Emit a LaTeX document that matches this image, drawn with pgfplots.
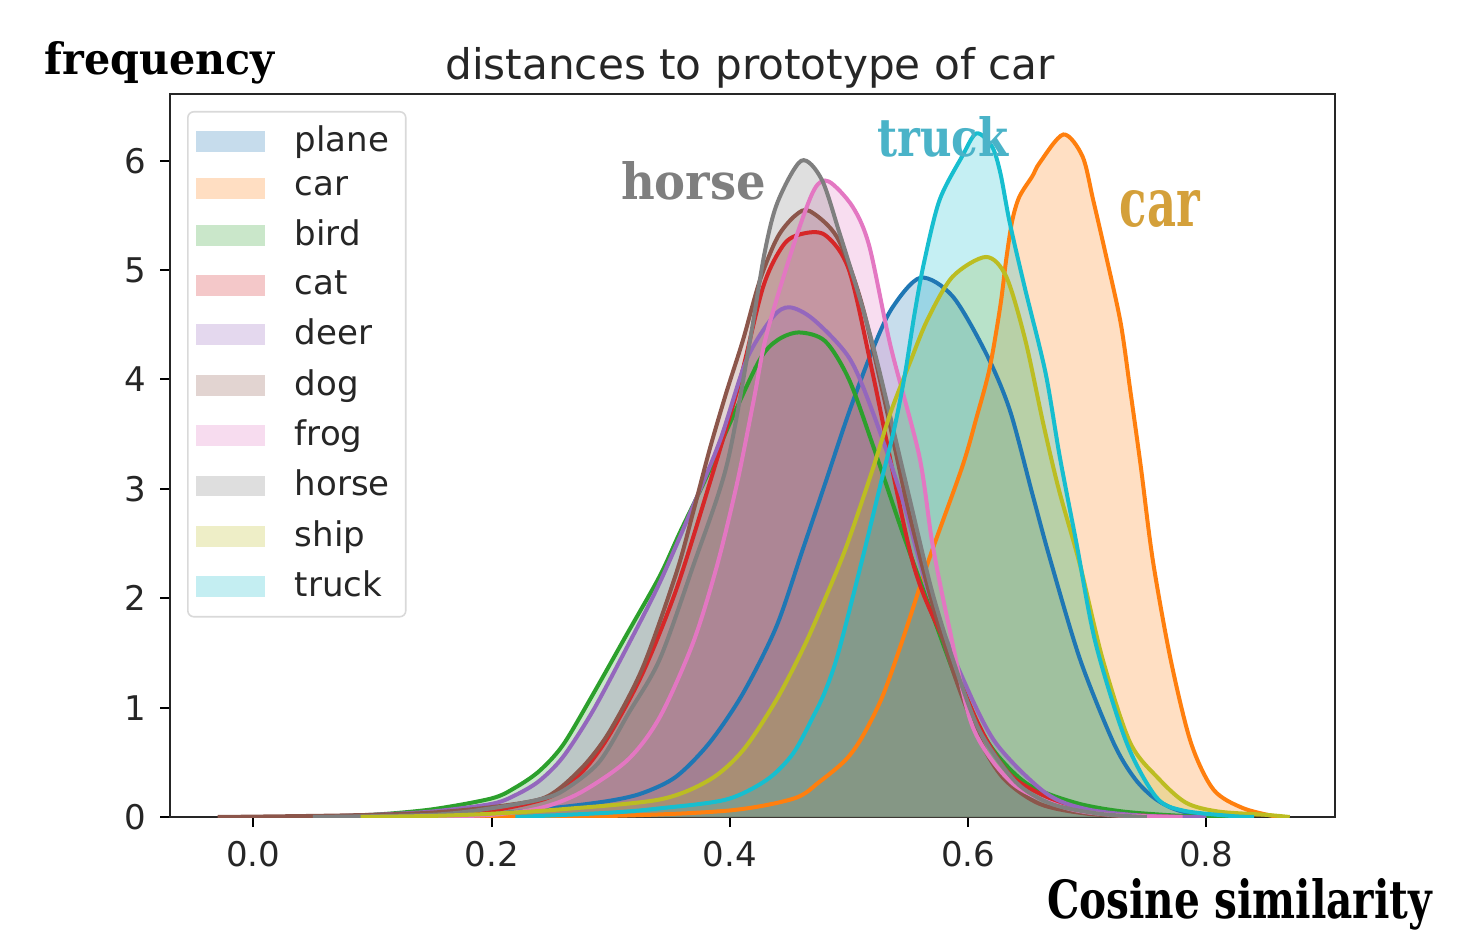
\documentclass[border=0pt]{standalone}
\usepackage{fontspec}
\setmainfont{DejaVu Sans}
\newfontfamily\slab{DejaVu Serif}
\usepackage{graphicx}
\usepackage{pgfplots}
\usepackage{pgfplotstable}
\pgfplotsset{compat=1.18}

\definecolor{cplane}{HTML}{1F77B4}
\definecolor{ccar}{HTML}{FF7F0E}
\definecolor{cbird}{HTML}{2CA02C}
\definecolor{ccat}{HTML}{D62728}
\definecolor{cdeer}{HTML}{9467BD}
\definecolor{cdog}{HTML}{8C564B}
\definecolor{cfrog}{HTML}{E377C2}
\definecolor{chorse}{HTML}{7F7F7F}
\definecolor{cship}{HTML}{BCBD22}
\definecolor{ctruck}{HTML}{17BECF}
\definecolor{ltruck}{HTML}{4AB3C8}
\definecolor{lcar}{HTML}{D4A03A}

\pgfplotstableread{
x y
0.10 0.0
0.20 0.03
0.258 0.09
0.30 0.15
0.327 0.22
0.355 0.37
0.383 0.68
0.411 1.13
0.439 1.74
0.461 2.44
0.48 3.05
0.50 3.70
0.519 4.25
0.536 4.65
0.56 4.93
0.587 4.76
0.615 4.24
0.635 3.72
0.654 2.95
0.669 2.35
0.694 1.44
0.722 0.68
0.74 0.35
0.758 0.16
0.78 0.05
0.82 0.0
}\tplane

\pgfplotstableread{
x y
0.15 0.0
0.30 0.01
0.40 0.06
0.454 0.17
0.475 0.32
0.497 0.52
0.511 0.73
0.528 1.10
0.545 1.62
0.567 2.35
0.595 3.20
0.607 3.65
0.618 4.10
0.627 4.67
0.632 5.10
0.637 5.45
0.643 5.67
0.654 5.86
0.66 5.98
0.68 6.24
0.696 6.04
0.705 5.64
0.716 5.12
0.728 4.52
0.736 3.91
0.745 3.20
0.755 2.35
0.77 1.44
0.787 0.68
0.806 0.25
0.831 0.08
0.86 0.0
}\tcar

\pgfplotstableread{
x y
0.05 0.0
0.10 0.02
0.15 0.07
0.20 0.17
0.22 0.27
0.24 0.42
0.26 0.66
0.285 1.12
0.314 1.68
0.341 2.20
0.358 2.60
0.38 3.10
0.40 3.60
0.425 4.18
0.44 4.36
0.458 4.43
0.48 4.35
0.50 4.00
0.52 3.40
0.545 2.60
0.57 1.85
0.595 1.13
0.62 0.63
0.65 0.30
0.69 0.13
0.73 0.05
0.78 0.01
0.82 0.0
}\tbird

\pgfplotstableread{
x y
0.05 0.0
0.10 0.01
0.15 0.02
0.20 0.06
0.24 0.15
0.258 0.24
0.28 0.46
0.30 0.77
0.327 1.32
0.355 2.08
0.383 3.05
0.408 3.97
0.428 4.85
0.445 5.23
0.46 5.33
0.48 5.32
0.50 5.00
0.52 4.05
0.553 2.35
0.58 1.60
0.61 0.82
0.637 0.37
0.68 0.12
0.72 0.03
0.78 0.0
}\tcat

\pgfplotstableread{
x y
0.05 0.0
0.10 0.02
0.15 0.05
0.20 0.12
0.22 0.20
0.24 0.33
0.26 0.55
0.285 0.97
0.314 1.56
0.341 2.14
0.369 2.84
0.392 3.45
0.414 4.18
0.436 4.57
0.45 4.66
0.47 4.55
0.50 4.20
0.52 3.70
0.545 2.90
0.567 2.05
0.595 1.28
0.623 0.68
0.665 0.22
0.70 0.07
0.75 0.01
0.80 0.0
}\tdeer

\pgfplotstableread{
x y
-0.03 0.0
0.05 0.01
0.10 0.02
0.15 0.04
0.20 0.09
0.24 0.16
0.258 0.27
0.28 0.50
0.30 0.80
0.327 1.37
0.355 2.23
0.369 2.78
0.383 3.36
0.397 3.88
0.411 4.36
0.425 4.90
0.44 5.30
0.455 5.50
0.467 5.54
0.49 5.30
0.51 4.72
0.53 3.80
0.55 2.80
0.57 1.95
0.59 1.25
0.61 0.70
0.63 0.35
0.66 0.12
0.70 0.03
0.75 0.0
}\tdog

\pgfplotstableread{
x y
0.15 0.0
0.20 0.02
0.24 0.08
0.274 0.22
0.314 0.52
0.341 0.91
0.369 1.59
0.389 2.29
0.406 3.05
0.42 3.81
0.431 4.42
0.455 5.28
0.471 5.74
0.483 5.81
0.503 5.58
0.517 5.22
0.535 4.30
0.559 3.30
0.57 2.50
0.584 1.74
0.604 0.82
0.637 0.31
0.68 0.09
0.72 0.02
0.78 0.0
}\tfrog

\pgfplotstableread{
x y
0.05 0.0
0.15 0.02
0.20 0.08
0.24 0.16
0.26 0.24
0.29 0.50
0.315 0.95
0.341 1.44
0.369 2.29
0.397 3.20
0.416 4.30
0.429 5.15
0.44 5.62
0.46 6.00
0.477 5.83
0.492 5.34
0.511 4.67
0.525 4.10
0.55 2.95
0.57 2.05
0.59 1.35
0.61 0.78
0.64 0.32
0.67 0.12
0.71 0.03
0.75 0.0
}\thorse

\pgfplotstableread{
x y
0.09 0.0
0.15 0.01
0.20 0.03
0.258 0.07
0.341 0.16
0.383 0.34
0.411 0.61
0.439 1.07
0.461 1.53
0.475 1.87
0.497 2.45
0.519 3.15
0.535 3.70
0.551 4.15
0.566 4.55
0.587 4.94
0.615 5.12
0.632 4.94
0.648 4.36
0.663 3.60
0.676 3.00
0.694 2.30
0.713 1.44
0.736 0.68
0.76 0.35
0.783 0.13
0.81 0.05
0.85 0.02
0.87 0.0
}\tship

\pgfplotstableread{
x y
0.22 0.0
0.30 0.04
0.342 0.08
0.397 0.16
0.431 0.34
0.453 0.58
0.47 0.92
0.48 1.15
0.491 1.50
0.511 2.35
0.528 3.11
0.538 3.55
0.547 4.05
0.555 4.60
0.563 5.07
0.576 5.64
0.595 6.04
0.607 6.25
0.62 6.13
0.627 5.89
0.635 5.43
0.648 4.82
0.665 4.06
0.677 3.29
0.691 2.50
0.707 1.59
0.733 0.68
0.758 0.18
0.78 0.06
0.82 0.01
0.84 0.0
}\ttruck

\begin{document}
\begin{tikzpicture}
\path[use as bounding box] (0,0) rectangle (367pt,236pt);
\begin{axis}[
  at={(42.5pt,31.75pt)}, anchor=south west,
  scale only axis, width=291.25pt, height=180.75pt,
  xmin=-0.07, xmax=0.908, ymin=0, ymax=6.61,
  xtick={0,0.2,0.4,0.6,0.8}, ytick={0,1,2,3,4,5,6},
  xticklabel style={/pgf/number format/fixed, /pgf/number format/precision=1, /pgf/number format/fixed zerofill},
  /pgf/number format/assume math mode=true,
  tick label style={font=\fontsize{8.5}{10}\selectfont, text=black!85},
  tick align=outside, tick pos=left, major tick length=2.5pt,
  every tick/.style={black, line width=0.5pt},
  axis line style={black!85, line width=0.6pt},
  legend cell align=left,
  legend style={at={(0.0146,0.9765)}, anchor=north west, draw=black!15, rounded corners=1.5pt, fill=white,
    font=\fontsize{8.5}{10}\selectfont, text=black!85, inner xsep=2pt, inner ysep=1.5pt, row sep=0.65pt,
    /tikz/every odd column/.append style={column sep=5.5pt}},
  legend image code/.code={\fill[#1, draw=none, sharp corners] (0pt,-2.6pt) rectangle (17.25pt,2.6pt);},
  every axis plot/.append style={smooth, tension=0.5},
]
% fills (zorder 1)
\addplot[fill=cplane, fill opacity=0.25, draw=none] table {\tplane} \closedcycle;
\addlegendentry{plane}
\addplot[fill=ccar, fill opacity=0.25, draw=none] table {\tcar} \closedcycle;
\addlegendentry{car}
\addplot[fill=cbird, fill opacity=0.25, draw=none] table {\tbird} \closedcycle;
\addlegendentry{bird}
\addplot[fill=ccat, fill opacity=0.25, draw=none] table {\tcat} \closedcycle;
\addlegendentry{cat}
\addplot[fill=cdeer, fill opacity=0.25, draw=none] table {\tdeer} \closedcycle;
\addlegendentry{deer}
\addplot[fill=cdog, fill opacity=0.25, draw=none] table {\tdog} \closedcycle;
\addlegendentry{dog}
\addplot[fill=cfrog, fill opacity=0.25, draw=none] table {\tfrog} \closedcycle;
\addlegendentry{frog}
\addplot[fill=chorse, fill opacity=0.25, draw=none] table {\thorse} \closedcycle;
\addlegendentry{horse}
\addplot[fill=cship, fill opacity=0.25, draw=none] table {\tship} \closedcycle;
\addlegendentry{ship}
\addplot[fill=ctruck, fill opacity=0.25, draw=none] table {\ttruck} \closedcycle;
\addlegendentry{truck}
% lines (zorder 2)
\addplot[cplane, line width=1pt, forget plot] table {\tplane};
\addplot[ccar, line width=1pt, forget plot] table {\tcar};
\addplot[cbird, line width=1pt, forget plot] table {\tbird};
\addplot[ccat, line width=1pt, forget plot] table {\tcat};
\addplot[cdeer, line width=1pt, forget plot] table {\tdeer};
\addplot[cdog, line width=1pt, forget plot] table {\tdog};
\addplot[cfrog, line width=1pt, forget plot] table {\tfrog};
\addplot[chorse, line width=1pt, forget plot] table {\thorse};
\addplot[cship, line width=1pt, forget plot] table {\tship};
\addplot[ctruck, line width=1pt, forget plot] table {\ttruck};

\node[anchor=base west, inner sep=0, text=chorse] at (axis cs:0.308,5.643)
  {\resizebox{36.25pt}{9.5pt}{\slab\bfseries horse}};
\node[anchor=base west, inner sep=0, text=ltruck] at (axis cs:0.523,6.037)
  {\resizebox{32.75pt}{10pt}{\slab\bfseries truck}};
\node[anchor=base west, inner sep=0, text=lcar] at (axis cs:0.7266,5.397)
  {\resizebox{20pt}{9pt}{\slab\bfseries car}};
\end{axis}
\node[anchor=base, inner sep=0, text=black!85, font=\fontsize{10.55}{12}\selectfont] at (187.5pt,216pt)
  {distances to prototype of car};
\node[anchor=base west, inner sep=0] at (11pt,217.25pt)
  {\resizebox{57.5pt}{8.25pt}{\slab\bfseries frequency}};
\node[anchor=base east, inner sep=0] at (358.25pt,6.5pt)
  {\resizebox{96.25pt}{10pt}{\slab\bfseries Cosine similarity}};
\end{tikzpicture}
\end{document}
